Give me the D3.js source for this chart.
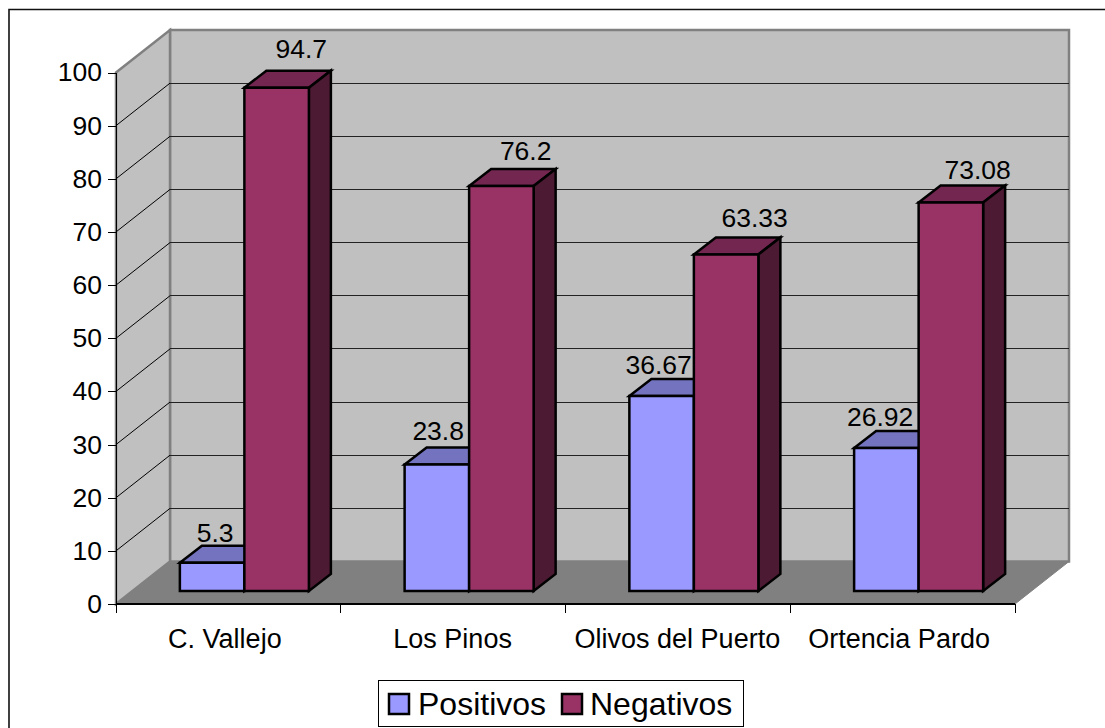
<!DOCTYPE html>
<html><head><meta charset="utf-8">
<script src="https://cdn.jsdelivr.net/npm/d3@7"></script>
<style>html,body{margin:0;padding:0;background:#fff;overflow:hidden}svg{display:block}text{font-family:"Liberation Sans",Arial,sans-serif;fill:#000}</style>
</head><body><svg id="c" width="1105" height="728"></svg>
<script>
const categories = ["C. Vallejo","Los Pinos","Olivos del Puerto","Ortencia Pardo"];
const positivos = [5.3,23.8,36.67,26.92];
const negativos = [94.7,76.2,63.33,73.08];
const yTicks = d3.range(0,101,10);
const seriesNames = ["Positivos","Negativos"];
const seriesFill = ["#9999ff","#993366"];
const seriesTop = ["#7373bf","#732650"];
const seriesSide = ["#4d4d80","#4d1a33"];

const svg = d3.select("#c");
const crisp = s=>s.attr("shape-rendering","crispEdges");
const x = d3.scaleBand().domain(categories).range([116,1015]).paddingInner(0).paddingOuter(0);
const y = d3.scaleLinear().domain([0,100]).range([604,72.5]);
const DX=54, DY=-42.5;
const inner = d3.scaleBand().domain(seriesNames).range([0,x.bandwidth()]).paddingInner(0).paddingOuter(0.742);
const poly=(pts)=>"M"+pts.map(p=>p.join(",")).join("L")+"Z";

// frame: only the top and left edges are visible
svg.append("path").attr("d","M1105,9.5H9V728").attr("fill","none").attr("stroke","#111").attr("stroke-width",1.6);

// walls
const x0=116,x1=1015,y0=y(0),y1=y(100);
svg.append("path").attr("d",poly([[x0+DX,y1+DY],[x1+DX,y1+DY],[x1+DX,y0+DY],[x0+DX,y0+DY]])).attr("fill","#c0c0c0").attr("stroke","#808080").attr("stroke-width",2.5);
svg.append("path").attr("d",poly([[x0,y1],[x0+DX,y1+DY],[x0+DX,y0+DY],[x0,y0]])).attr("fill","#c0c0c0").attr("stroke","#808080").attr("stroke-width",2.5);
svg.append("path").attr("d",poly([[x0,y0],[x0+DX,y0+DY],[x1+DX,y0+DY],[x1,y0]])).attr("fill","#808080").attr("stroke","#808080").attr("stroke-width",1);

// gridlines
yTicks.filter(t=>t>0&&t<100).forEach(t=>{
  svg.append("line").attr("x1",x0).attr("y1",y(t)).attr("x2",x0+DX).attr("y2",y(t)+DY).attr("stroke","#000").attr("stroke-width",1);
  svg.append("line").attr("x1",x0+DX).attr("y1",y(t)+DY).attr("x2",x1+DX).attr("y2",y(t)+DY).attr("stroke","#222").attr("stroke-width",1).call(crisp);
});

// axes
const yAxis=d3.axisLeft(y).tickValues(yTicks).tickSize(8).tickSizeOuter(0).tickPadding(6);
const gy=svg.append("g").attr("transform",`translate(${x0},0)`).call(yAxis);
gy.selectAll("text").style("font-size","26.5px").style("font-family",'"Liberation Sans",Arial,sans-serif');
gy.selectAll("line,path").attr("stroke","#000").call(crisp);
const xEdges=d3.range(categories.length+1).map(i=>x0+i*x.bandwidth());
const xg=svg.append("g");
xg.append("line").attr("x1",x0).attr("x2",x1).attr("y1",y0).attr("y2",y0).attr("stroke","#000").attr("stroke-width",1.5).call(crisp);
xEdges.forEach(e=>xg.append("line").attr("x1",e).attr("x2",e).attr("y1",y0).attr("y2",y0+9).attr("stroke","#000").call(crisp));
const catNudge=[-3.5,-0.5,-0.5,-3.5];
categories.forEach((c,i)=>xg.append("text").attr("x",x(c)+x.bandwidth()/2+catNudge[i]).attr("y",648).attr("text-anchor","middle").style("font-size","27px").text(c));

// bars
const bD=[22,-17], bS=[16,-13];
const h=v=>y(v)-y(0);
function bar(cat,sIdx,v){
  const g=svg.append("g").attr("stroke","#000").attr("stroke-width",2.5).attr("stroke-linejoin","miter");
  const l=x(cat)+inner(seriesNames[sIdx])+bS[0], r=l+inner.bandwidth();
  const b=y0+bS[1], t=b+h(v);
  g.append("path").attr("d",poly([[l,t],[r,t],[r+bD[0],t+bD[1]],[l+bD[0],t+bD[1]]])).attr("fill",seriesTop[sIdx]);
  g.append("path").attr("d",poly([[r,t],[r+bD[0],t+bD[1]],[r+bD[0],b+bD[1]],[r,b]])).attr("fill",seriesSide[sIdx]);
  g.append("path").attr("d",poly([[l,t],[r,t],[r,b],[l,b]])).attr("fill",seriesFill[sIdx]);
  return {cx:(l+r)/2+(sIdx?26:0),t:t+bD[1]};
}
const labels=[];
categories.forEach((c,i)=>{
  [positivos[i],negativos[i]].forEach((v,s)=>{ labels.push({v,...bar(c,s,v)}); });
});
const labelLift=[4,13,8,9,5,10,5,7];
const labelShift=[3,-1.4,1.3,-1.7,-3,2.5,-6.2,0.8];
labels.forEach((d,i)=>svg.append("text").attr("x",d.cx+labelShift[i]).attr("y",d.t-labelLift[i]).attr("text-anchor","middle").style("font-size","26.5px").text(d.v));

// legend
const lg=svg.append("g");
lg.append("rect").attr("x",378.5).attr("y",680.5).attr("width",365).attr("height",46).attr("fill","#fff").attr("stroke","#000").attr("stroke-width",1);
const lx=[389,562], tx=[418,590];
seriesNames.forEach((n,i)=>{
  lg.append("rect").attr("x",lx[i]).attr("y",694).attr("width",20).attr("height",20).attr("fill",seriesFill[i]).attr("stroke","#000").attr("stroke-width",2.5);
  lg.append("text").attr("x",tx[i]).attr("y",715).style("font-size","32px").text(n);
});
</script></body></html>
